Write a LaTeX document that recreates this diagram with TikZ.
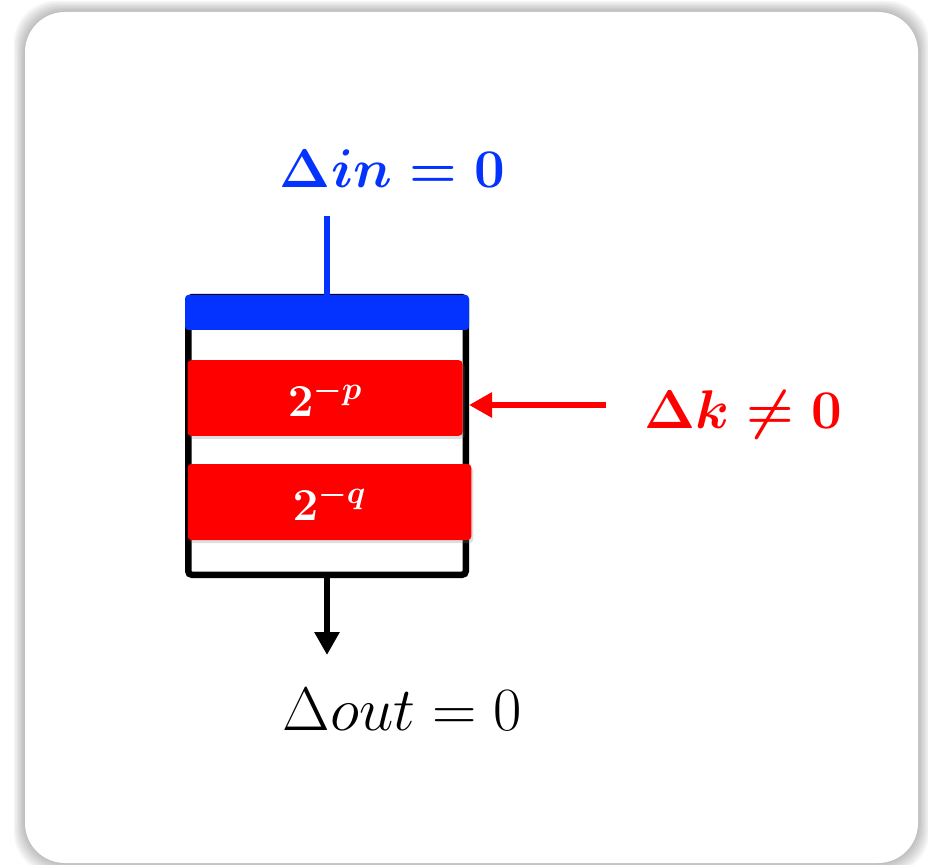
\RequirePackage{fix-cm}
\documentclass[tikz,border=0pt]{standalone}
\usepackage{amsmath,amssymb}
\usepackage{tikz}
\usepackage{xcolor}
\usetikzlibrary{arrows.meta,shadows}
\definecolor{inblue}{HTML}{0433FF}
\definecolor{kred}{HTML}{FF0000}

\begin{document}
\begin{tikzpicture}[
      wire/.style={line width=0.13cm},
      wall/.style={draw, line width=0.13cm, rounded corners=2pt, minimum width=5.55cm, minimum height=5.55cm, fill=white},
      topbar/.style={fill=inblue, rounded corners=2pt, minimum width=5.68cm, minimum height=0.70cm, inner sep=0pt},
      reg/.style={fill=kred, rounded corners=2pt, minimum height=1.51cm, inner sep=0pt, text=white, font=\fontsize{26}{31}\selectfont\boldmath, drop shadow={shadow xshift=0.04cm, shadow yshift=-0.06cm, opacity=0.25}},
      lbl/.style={inner sep=0pt, anchor=base},
      arr/.style={-{Triangle[length=0.46cm,width=0.48cm]}, line width=0.13cm}
  ]
    \useasboundingbox (0,0) rectangle (18.56,17.28);
    \foreach \d in {1,...,8}
      \fill[black, opacity=0.035, rounded corners=0.85cm] ({0.5-0.028*\d},{0.02-0.028*\d}) rectangle ({18.36+0.028*\d},{17.04+0.028*\d});
    \fill[white, rounded corners=0.8cm] (0.5,0.02) rectangle (18.36,17.04);

    \node[wall] (wall) at (6.54,8.56) {};
    \node[topbar] (inbar) at (6.54,11.03) {};
    \node[reg, minimum width=5.50cm] (regp) at (6.50,9.32) {$2^{-p}$};
    \node[reg, minimum width=5.67cm, minimum height=1.52cm] (regq) at (6.59,7.24) {$2^{-q}$};

    \node[lbl, text=inblue, font=\fontsize{31}{37}\selectfont\boldmath] (din) at (7.85,13.52) {$\Delta in = 0$};
    \node[lbl, text=kred, font=\fontsize{31}{37}\selectfont\boldmath] (dk) at (14.87,8.72) {$\Delta k \neq 0$};
    \node[lbl, font=\fontsize{35}{42}\selectfont] (dout) at (8.05,2.68) {$\Delta out = 0$};

    \coordinate (infrom) at (6.54,12.96);
    \coordinate (kfrom) at (12.12,9.18);
    \coordinate (outto) at (6.54,4.18);

    \draw[wire, inblue] (infrom) -- (inbar.north);
    \draw[arr, kred] (kfrom) -- (kfrom -| wall.east);
    \draw[arr] (wall.south) -- (outto);
  \end{tikzpicture}
\end{document}
